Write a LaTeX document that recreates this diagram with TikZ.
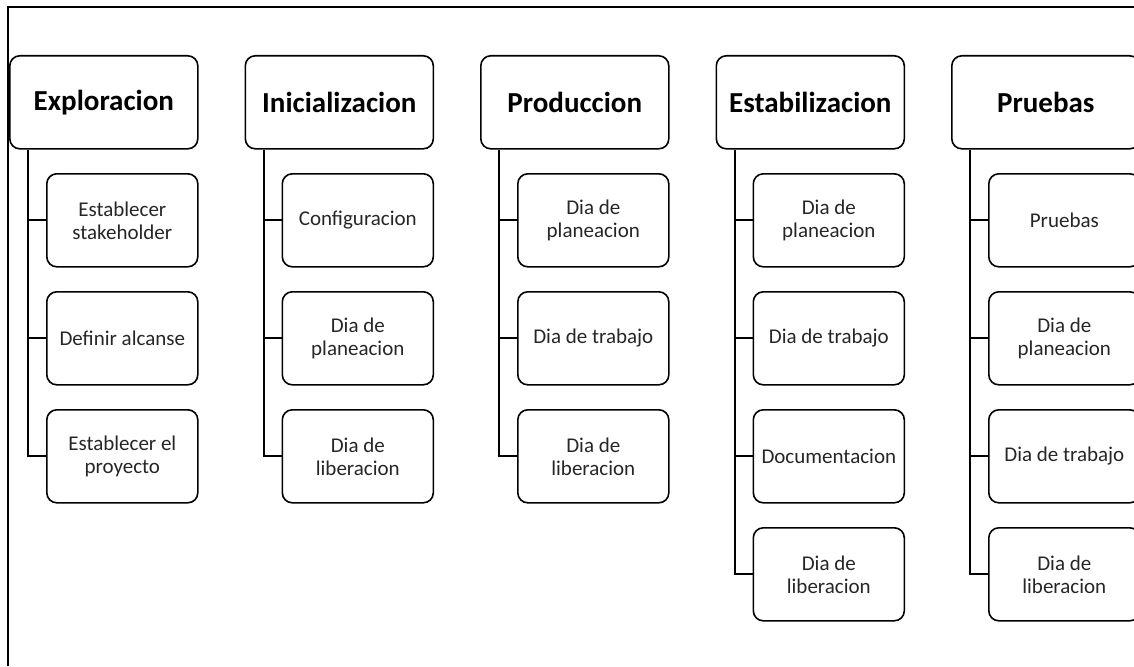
\documentclass[tikz,border=0pt]{standalone}
\usepackage{fontspec}
\setmainfont{Carlito}
\begin{document}
\begin{tikzpicture}[x=1pt,y=-1pt,
  header/.style={draw, line width=1.6pt, rounded corners=10pt, anchor=north west,
    minimum width=188pt, minimum height=93pt, inner sep=0pt,
    font=\bfseries\fontsize{29}{33}\selectfont},
  item/.style={draw, line width=1.6pt, rounded corners=10pt, anchor=north west,
    minimum width=151pt, minimum height=93pt, inner sep=0pt, align=center,
    text=black!85, font=\fontsize{21}{23}\selectfont},
  tree/.style={line width=2pt},
  frame/.style={line width=2pt}]
\useasboundingbox (0,0) rectangle (1134,666);
\clip (0,0) rectangle (1134,666);
\draw[frame] (8,666) -- (8,7) -- (1135,7);

% headers
\node[header] (h1) at (9,55) {Exploracion};
\node[header] (h2) at (244.5,55) {Inicializacion};
\node[header] (h3) at (480,55) {Produccion};
\node[header] (h4) at (715.5,55) {Estabilizacion};
\node[header] (h5) at (951,55) {Pruebas};

% column 1
\node[item] (c11) at (46,173) {Establecer\\stakeholder};
\node[item] (c12) at (46,291) {Definir alcanse};
\node[item] (c13) at (46,409) {Establecer el\\proyecto};
% column 2
\node[item] (c21) at (281.5,173) {Configuracion};
\node[item] (c22) at (281.5,291) {Dia de\\planeacion};
\node[item] (c23) at (281.5,409) {Dia de\\liberacion};
% column 3
\node[item] (c31) at (517,173) {Dia de\\planeacion};
\node[item] (c32) at (517,291) {Dia de trabajo};
\node[item] (c33) at (517,409) {Dia de\\liberacion};
% column 4
\node[item] (c41) at (752.5,173) {Dia de\\planeacion};
\node[item] (c42) at (752.5,291) {Dia de trabajo};
\node[item] (c43) at (752.5,409) {Documentacion};
\node[item] (c44) at (752.5,527) {Dia de\\liberacion};
% column 5
\node[item] (c51) at (988,173) {Pruebas};
\node[item] (c52) at (988,291) {Dia de\\planeacion};
\node[item] (c53) at (988,409) {Dia de trabajo};
\node[item] (c54) at (988,527) {Dia de\\liberacion};

% connectors
\foreach \h/\last/\others in {h1/c13/{c11,c12}, h2/c23/{c21,c22}, h3/c33/{c31,c32},
    h4/c44/{c41,c42,c43}, h5/c54/{c51,c52,c53}} {
  \draw[tree] ([xshift=19pt]\h.south west) |- (\last.west);
  \foreach \c in \others {
    \draw[tree] ([xshift=19pt]\h.south west |- \c.west) -- (\c.west);
  }
}
\end{tikzpicture}
\end{document}
